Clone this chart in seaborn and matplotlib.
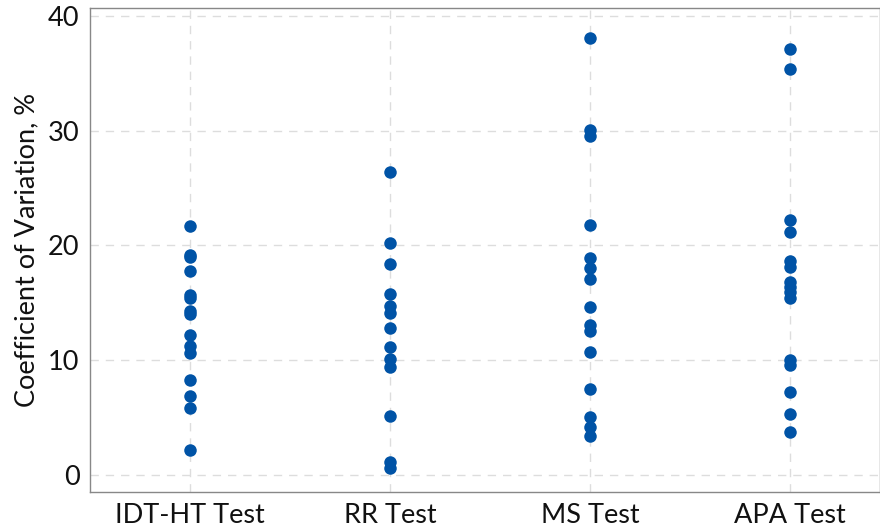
import matplotlib
matplotlib.use("Agg")
import matplotlib.pyplot as plt
import seaborn as sns
import pandas as pd

# Coefficient of variation (%) of each test, one value per sample
categories = ["IDT-HT Test", "RR Test", "MS Test", "APA Test"]
idt_ht = [21.7, 19.2, 19.0, 17.8, 15.7, 15.4, 14.3, 14.0, 12.2, 11.2, 10.6, 8.3, 6.9, 5.8, 2.2]
rr = [26.4, 20.2, 18.4, 15.8, 14.7, 14.1, 12.8, 11.1, 10.1, 9.4, 5.1, 1.1, 0.6]
ms = [38.1, 30.1, 29.5, 21.8, 18.9, 18.0, 17.1, 14.6, 13.1, 12.5, 10.7, 7.5, 5.0, 4.2, 3.4]
apa = [37.1, 35.4, 22.2, 21.2, 18.6, 18.1, 16.8, 16.4, 15.9, 15.4, 10.0, 9.6, 7.2, 5.3, 3.7]
y_ticks = [0, 10, 20, 30, 40]

df = pd.DataFrame({
    "test": [categories[0]] * len(idt_ht) + [categories[1]] * len(rr)
            + [categories[2]] * len(ms) + [categories[3]] * len(apa),
    "cv": idt_ht + rr + ms + apa,
})

sns.set_style("white")
plt.rcParams["font.family"] = ["Lato", "DejaVu Sans"]

fig = plt.figure(figsize=(8.8, 5.31), dpi=100)
ax = fig.add_axes([90 / 880, 1 - 492 / 531, 1 - 90 / 880, (492 - 8) / 531])

sns.stripplot(data=df, x="test", y="cv", order=categories, jitter=False,
              color="#0053A6", size=9, linewidth=0, ax=ax, zorder=3)

ax.set_xlim(-0.5, 3.45)
ax.set_ylim(-1.5, 40.7)
ax.set_yticks(y_ticks)
ax.set_xlabel("")
ax.set_ylabel("Coefficient of Variation, %", fontsize=19.5, color="#111111",
              labelpad=6)
ax.tick_params(axis="both", labelsize=19.5, labelcolor="#111111", length=4,
               width=0.8, direction="out", color="#888888")
ax.tick_params(axis="x", pad=4)
ax.grid(True, linestyle=(0, (6, 5)), color="#dddddd", linewidth=1)
ax.set_axisbelow(True)
for sp in ax.spines.values():
    sp.set_visible(True)
    sp.set_color("#888888")
    sp.set_linewidth(1)

fig.savefig("out.png", dpi=100)
